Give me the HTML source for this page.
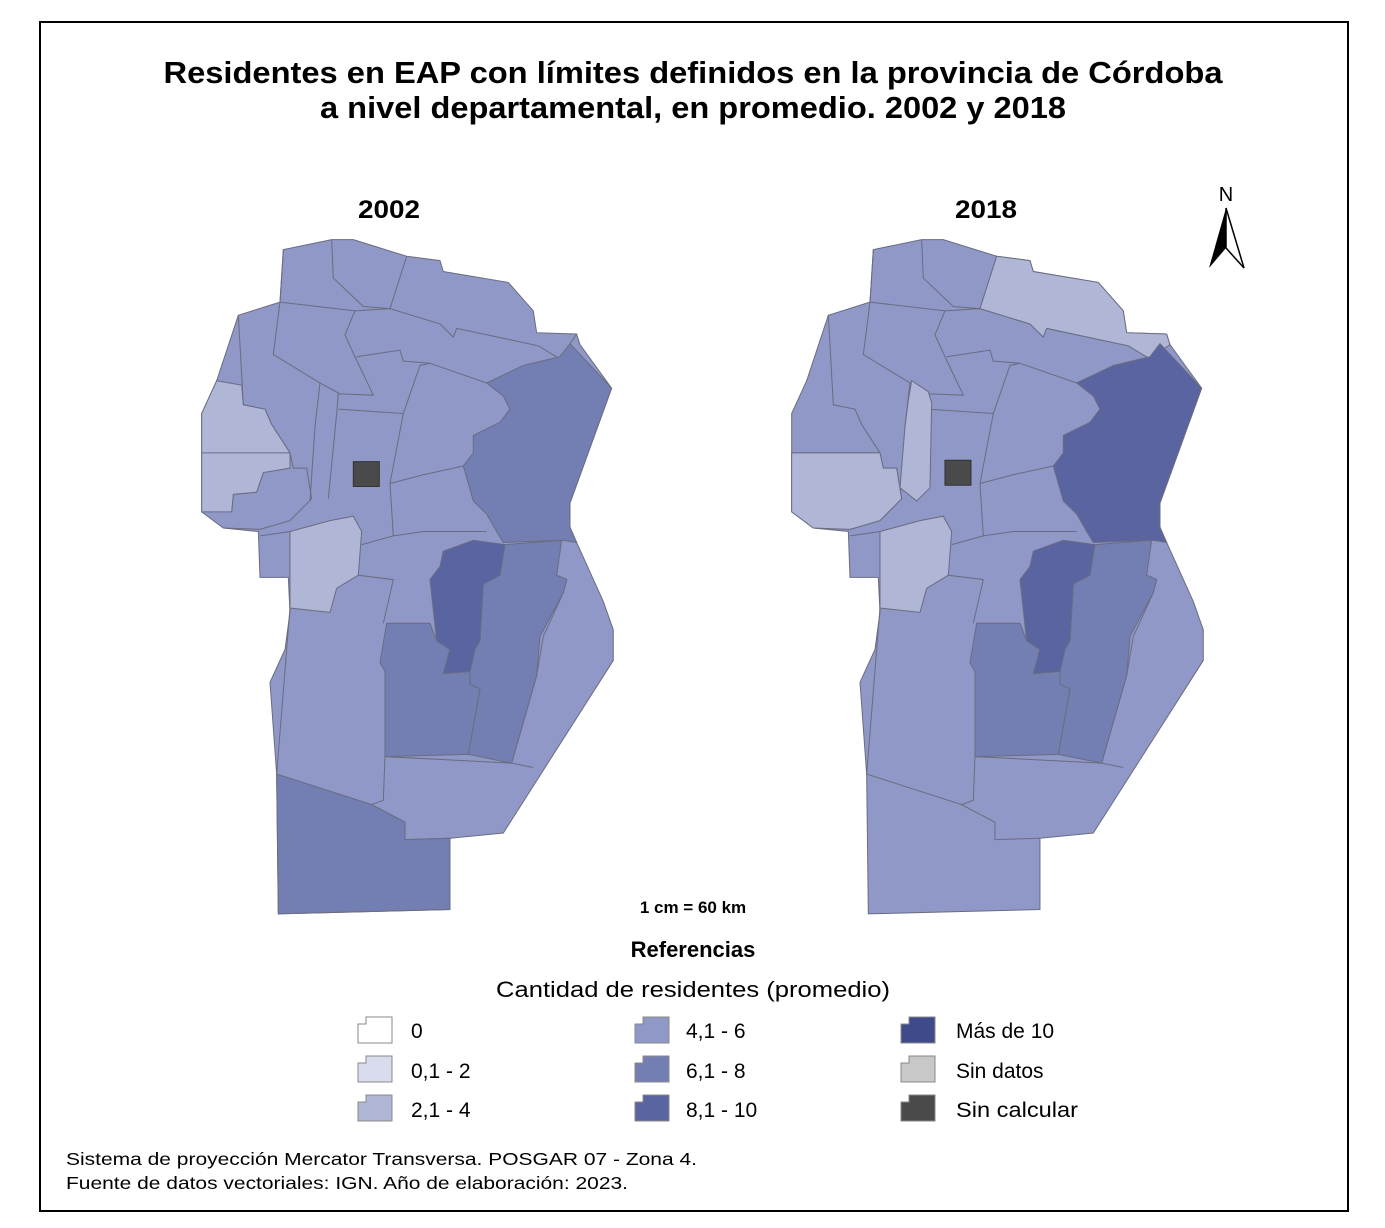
<!DOCTYPE html>
<html><head><meta charset="utf-8"><style>
html,body{margin:0;padding:0;background:#fff}
svg{display:block}
text{font-family:"Liberation Sans",sans-serif}
.b{stroke:#6a6c80;stroke-width:1;fill:none;vector-effect:non-scaling-stroke}
.p{stroke:#6a6c80;stroke-width:1;vector-effect:non-scaling-stroke}
</style></head><body>
<svg width="1385" height="1228" viewBox="0 0 1385 1228" xmlns="http://www.w3.org/2000/svg">
<rect x="0" y="0" width="1385" height="1228" fill="#fff"/>
<rect x="40" y="22" width="1308" height="1189" fill="none" stroke="#000" stroke-width="2"/>
<text x="693" y="83" text-anchor="middle" font-size="31" font-weight="bold" textLength="1059" lengthAdjust="spacingAndGlyphs">Residentes en EAP con límites definidos en la provincia de Córdoba</text>
<text x="693" y="118" text-anchor="middle" font-size="31" font-weight="bold" textLength="746" lengthAdjust="spacingAndGlyphs">a nivel departamental, en promedio. 2002 y 2018</text>
<text x="389" y="218" text-anchor="middle" font-size="25" font-weight="bold" textLength="62" lengthAdjust="spacingAndGlyphs">2002</text>
<text x="986" y="218" text-anchor="middle" font-size="25" font-weight="bold" textLength="62" lengthAdjust="spacingAndGlyphs">2018</text>
<text x="1226" y="201" text-anchor="middle" font-size="20">N</text>
<polygon points="1226,208 1209,268 1226,248" fill="#000"/>
<polygon points="1226,208 1244,268 1226,248" fill="#fff" stroke="#000" stroke-width="1.5"/>

<defs>
<g id="base">
<polygon class="p" fill="#8f98c6" points="280,45 425,22 490,22 650,60 750,70 760,95 955,120 1030,185 1040,235 1160,238 1170,262 1265,362 1140,625 1140,680 1160,715 1240,850 1270,915 1270,985 940,1380 780,1392 780,1555 265,1565 260,1245 240,1035 285,960 300,875 295,795 210,795 205,690 100,682 35,645 35,420 80,345 145,195 270,165"/>
</g>
<g id="lines">
<polyline class="b" points="270,165 495,185 600,180 750,215 790,245 800,225 1045,265 1110,295 1160,238"/>
<polyline class="b" points="425,22 430,110 520,175 600,180 650,60"/>
<polyline class="b" points="280,45 270,165 250,285 390,350 450,375 550,378 495,290 465,240 495,185"/>
<polyline class="b" points="390,350 375,450 360,620"/>
<polyline class="b" points="445,375 440,420 415,615"/>
<polyline class="b" points="445,410 640,420 600,580 610,700"/>
<polyline class="b" points="500,290 630,275 640,300 720,305 690,310 640,420"/>
<polyline class="b" points="720,305 890,350"/>
<polyline class="b" points="600,580 700,560 820,540"/>
<polyline class="b" points="610,700 700,690 830,690 890,690"/>
<polyline class="b" points="515,720 610,700"/>
<polyline class="b" points="505,790 610,800 580,900"/>
<polyline class="b" points="145,195 160,400 225,410 245,445 300,510 310,545 350,545 365,615 300,665 210,685 100,682"/>
<polyline class="b" points="35,510 300,510"/>
<polyline class="b" points="220,555 200,600 130,605 125,645"/>
<polyline class="b" points="300,690 210,700"/>
<polyline class="b" points="300,865 290,960 260,1245 545,1315 580,1305 585,1205 965,1220 1030,1230"/>
<polyline class="b" points="545,1315 645,1355 645,1395 780,1392"/>
<polyline class="b" points="1115,710 1140,690"/>
<polyline class="b" points="1100,790 1130,800 1120,830 1060,930 1040,1020 965,1220"/>
</g>
</defs>

<g transform="translate(190,230) scale(0.3333,0.437)">
<use href="#base"/>
<use href="#lines"/>
<polygon class="p" fill="#b0b6d6" points="35,420 80,345 155,355 160,400 225,410 245,445 300,510 300,545 220,555 200,600 130,605 125,645 35,645"/>
<polyline class="b" points="35,510 300,510"/>
<polygon class="p" fill="#b0b6d6" points="300,690 420,665 490,655 515,690 505,790 440,820 420,875 300,865"/>
<polygon class="p" fill="#737fb2" points="890,350 1000,310 1110,290 1140,260 1265,362 1140,625 1140,680 1160,715 1120,710 940,715 920,690 890,650 850,620 820,540 850,510 850,470 930,440 960,410 940,380"/>
<polygon class="p" fill="#737fb2" points="945,720 1115,710 1100,790 1130,800 1120,830 1050,930 1040,1020 965,1220 835,1200 870,1050 840,1040 840,1010 855,960 870,940 880,810 930,790"/>
<polygon class="p" fill="#737fb2" points="590,900 720,900 740,940 780,960 760,1015 840,1010 840,1040 870,1050 835,1200 585,1205 585,1010 570,990"/>
<polygon class="p" fill="#5a64a0" points="760,735 850,710 945,720 930,790 880,810 870,940 855,960 840,1010 760,1015 780,960 740,940 720,800 750,770"/>
<polygon class="p" fill="#737fb2" points="260,1245 545,1315 645,1355 645,1395 780,1392 780,1555 265,1565"/>
<rect x="490" y="530" width="78" height="57" fill="#4a4a4a" stroke="#333" stroke-width="1" vector-effect="non-scaling-stroke"/>
</g>

<g transform="translate(780,230) scale(0.3333,0.437)">
<use href="#base"/>
<use href="#lines"/>
<polygon class="p" fill="#b0b6d6" points="650,60 750,70 760,95 955,120 1030,185 1040,235 1160,238 1170,262 1110,295 1045,265 800,225 790,245 750,215 600,180"/>
<polygon class="p" fill="#b0b6d6" points="35,510 300,510 310,545 350,545 365,615 300,665 210,685 100,682 35,645"/>
<polygon class="p" fill="#b0b6d6" points="395,345 445,370 455,395 450,590 410,620 360,590 375,450 385,390"/>
<polygon class="p" fill="#b0b6d6" points="300,690 420,665 490,655 515,690 505,790 440,820 420,875 300,865"/>
<polygon class="p" fill="#5a64a0" points="890,350 1000,310 1110,290 1140,260 1265,362 1140,625 1140,680 1160,715 1120,710 940,715 920,690 890,650 850,620 820,540 850,510 850,470 930,440 960,410 940,380"/>
<polygon class="p" fill="#737fb2" points="945,720 1115,710 1100,790 1130,800 1120,830 1050,930 1040,1020 965,1220 835,1200 870,1050 840,1040 840,1010 855,960 870,940 880,810 930,790"/>
<polygon class="p" fill="#737fb2" points="590,900 720,900 740,940 780,960 760,1015 840,1010 840,1040 870,1050 835,1200 585,1205 585,1010 570,990"/>
<polygon class="p" fill="#5a64a0" points="760,735 850,710 945,720 930,790 880,810 870,940 855,960 840,1010 760,1015 780,960 740,940 720,800 750,770"/>
<rect x="495" y="527" width="78" height="57" fill="#4a4a4a" stroke="#333" stroke-width="1" vector-effect="non-scaling-stroke"/>
</g>

<text x="693" y="913" text-anchor="middle" font-size="17" font-weight="bold">1 cm = 60 km</text>
<text x="693" y="957" text-anchor="middle" font-size="22" font-weight="bold">Referencias</text>
<text x="693" y="997" text-anchor="middle" font-size="22" textLength="394" lengthAdjust="spacingAndGlyphs">Cantidad de residentes (promedio)</text>

<g stroke="#888" stroke-width="1">
<polygon fill="#ffffff" points="358,1024 366,1024 366,1017 392,1017 392,1043 358,1043"/>
<polygon fill="#d9dcec" points="358,1063 366,1063 366,1056 392,1056 392,1082 358,1082"/>
<polygon fill="#b0b6d6" points="358,1102 366,1102 366,1095 392,1095 392,1121 358,1121"/>
<polygon fill="#8f98c6" points="635,1024 643,1024 643,1017 669,1017 669,1043 635,1043"/>
<polygon fill="#737fb2" points="635,1063 643,1063 643,1056 669,1056 669,1082 635,1082"/>
<polygon fill="#5a64a0" points="635,1102 643,1102 643,1095 669,1095 669,1121 635,1121"/>
<polygon fill="#3f4a8a" points="901,1024 909,1024 909,1017 935,1017 935,1043 901,1043"/>
<polygon fill="#c8c8c8" points="901,1063 909,1063 909,1056 935,1056 935,1082 901,1082"/>
<polygon fill="#4a4a4a" points="901,1102 909,1102 909,1095 935,1095 935,1121 901,1121"/>
</g>
<g font-size="21">
<text x="411" y="1038">0</text>
<text x="411" y="1078">0,1 - 2</text>
<text x="411" y="1117">2,1 - 4</text>
<text x="686" y="1038">4,1 - 6</text>
<text x="686" y="1078">6,1 - 8</text>
<text x="686" y="1117">8,1 - 10</text>
<text x="956" y="1038">Más de 10</text>
<text x="956" y="1078">Sin datos</text>
<text x="956" y="1117" textLength="122" lengthAdjust="spacingAndGlyphs">Sin calcular</text>
</g>
<text x="66" y="1165" font-size="17.5" textLength="631" lengthAdjust="spacingAndGlyphs">Sistema de proyección Mercator Transversa. POSGAR 07 - Zona 4.</text>
<text x="66" y="1189" font-size="17.5" textLength="562" lengthAdjust="spacingAndGlyphs">Fuente de datos vectoriales: IGN. Año de elaboración: 2023.</text>
</svg>
</body></html>
